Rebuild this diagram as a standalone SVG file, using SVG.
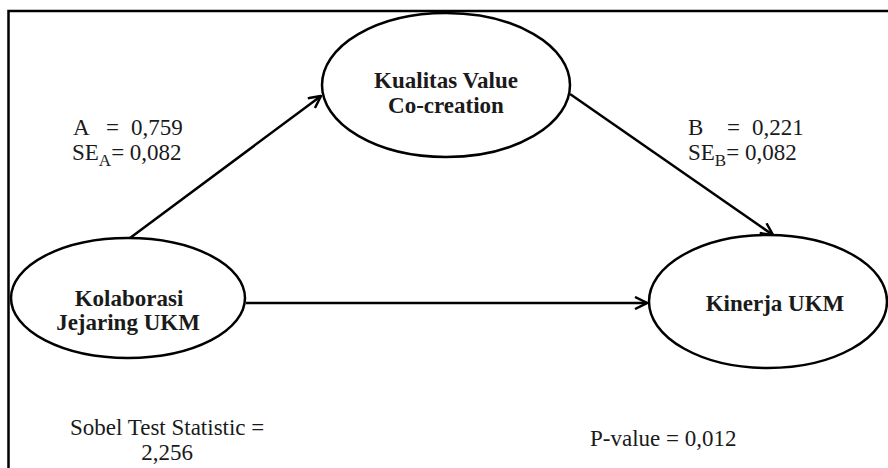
<svg xmlns="http://www.w3.org/2000/svg" width="888" height="468" viewBox="0 0 888 468">
<style>
.node{fill:#fff;stroke:#000;stroke-width:2.5}
.lbl{font-family:'Liberation Serif','DejaVu Serif',serif;font-size:23px;font-weight:bold;fill:#1a1a1a;text-anchor:middle}
.txt{font-family:'Liberation Serif','DejaVu Serif',serif;font-size:23px;fill:#1a1a1a}
.sub{font-size:17px}
.edge{stroke:#000;stroke-width:2.5;fill:none}
</style>
<defs>
<marker id="arr" viewBox="0 0 14 14" refX="13" refY="7" markerWidth="14" markerHeight="14" markerUnits="userSpaceOnUse" orient="auto">
<path d="M1,1 L13,7 L1,13" fill="none" stroke="#000" stroke-width="2.5"/>
</marker>
</defs>
<rect x="8.5" y="11" width="900" height="500" fill="#fff" stroke="#000" stroke-width="2.5"/>
<g id="connectors">
<line class="edge" x1="130" y1="238" x2="321" y2="96" marker-end="url(#arr)"/>
<line class="edge" x1="570" y1="94" x2="773" y2="235" marker-end="url(#arr)"/>
<line class="edge" x1="246" y1="303" x2="647" y2="303" marker-end="url(#arr)"/>
</g>
<g id="kualitas">
<ellipse class="node" cx="446" cy="85" rx="124" ry="72"/>
<text class="lbl" x="446" y="88">Kualitas Value</text>
<text class="lbl" x="446" y="113">Co-creation</text>
</g>
<g id="kolaborasi">
<ellipse class="node" cx="128" cy="298" rx="117" ry="60"/>
<text class="lbl" x="129" y="306">Kolaborasi</text>
<text class="lbl" x="128" y="330">Jejaring UKM</text>
</g>
<g id="kinerja">
<ellipse class="node" cx="768" cy="301.5" rx="119" ry="66.5"/>
<text class="lbl" x="775" y="311">Kinerja UKM</text>
</g>
<g id="labels">
<text class="txt" x="73" y="135">A</text>
<text class="txt" x="106" y="135">=</text>
<text class="txt" x="131" y="135">0,759</text>
<text class="txt" x="72" y="160">SE<tspan class="sub" dy="6">A</tspan><tspan dy="-6">= 0,082</tspan></text>
<text class="txt" x="688" y="135">B</text>
<text class="txt" x="727" y="135">=</text>
<text class="txt" x="752" y="135">0,221</text>
<text class="txt" x="688" y="160">SE<tspan class="sub" dy="6">B</tspan><tspan dy="-6">= 0,082</tspan></text>
<text class="txt" x="70" y="435">Sobel Test Statistic =</text>
<text class="txt" x="167" y="460" text-anchor="middle">2,256</text>
<text class="txt" x="590" y="446">P-value = 0,012</text>
</g>
</svg>
